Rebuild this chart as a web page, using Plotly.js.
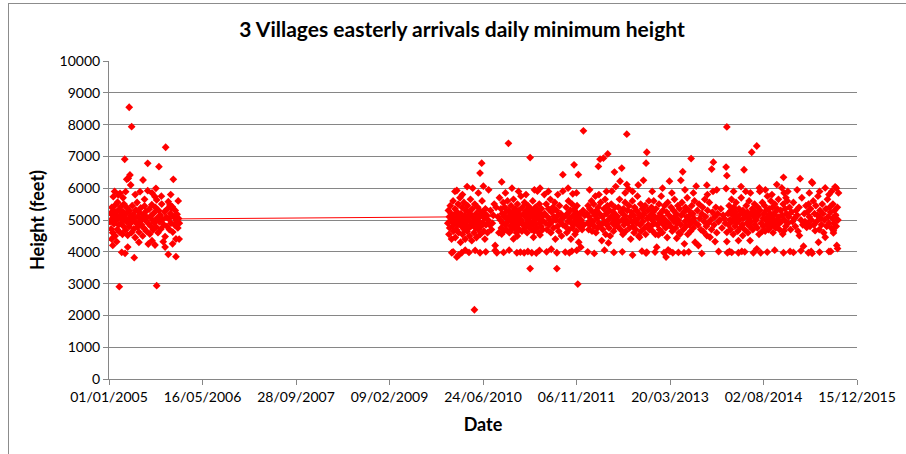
<!DOCTYPE html>
<html>
<head>
<meta charset="utf-8">
<script src="https://cdn.plot.ly/plotly-3.0.1.min.js"></script>
<style>
html,body{margin:0;padding:0;background:#fff;overflow:hidden;}
#wrap{position:relative;width:906px;height:454px;}
#frame{position:absolute;left:8px;top:3px;width:910px;height:470px;border:1px solid #8c8c8c;box-sizing:border-box;pointer-events:none;z-index:2;}
#chart{position:absolute;left:0;top:0;width:906px;height:454px;}
</style>
</head>
<body>
<div id="wrap"><div id="chart"></div><div id="frame"></div></div>
<script>
// Day offsets are counted from 01/01/2005; each pair is [dayOffset, heightFeet]
const season2005 = [
[108,8545],[121,7935],[303,7287],[84,6910],[207,6783],[267,6677],[344,6280],[182,6258],[112,6415],[103,6312],[95,6280],[116,6101],[251,5997],[207,5922],[166,5890],[89,5890],[23,5733],[50,5787],[59,5840],[246,5733],[255,5630],[317,5576],[326,5472],[335,5368],[14,4403],[41,4318],[210,4246],[246,4214],[290,4318],[68,3985],[86,3953],[135,3815],[317,3921],[358,3847],[358,4403],[55,2903],[255,2934],
[30,5900],[75,5700],[140,5800],[190,5650],[230,5850],[280,5750],[330,5800],[370,5600],[20,4200],[100,4150],[160,4300],[230,4350],[300,4150],[340,4250],[375,4400],
[6,4950],[9,5210],[12,4720],[15,5400],[18,5050],[20,4600],[25,5300],[27,4880],[30,5120],[33,4500],[35,5480],[38,4990],[40,5250],[44,4700],[46,5560],[48,5080],[52,4850],[54,5330],[57,4620],[60,5150],[63,5420],[65,4900],[70,5010],[72,4550],[75,5260],[78,4800],[80,5500],[83,5090],[88,4680],[91,5200],[94,4950],[97,5380],[100,4520],[104,5030],[107,4790],[110,5290],[113,4880],[117,5140],[120,4600],[124,5450],[127,4970],[130,5180],[133,4720],[137,5060],[140,4450],[143,5320],[146,4900],[150,5550],[153,4780],[156,5100],[160,4620],[163,5230],[166,4960],[170,5380],[173,4850],[177,5020],[180,4500],[184,5160],[187,4740],[190,5440],[194,4990],[197,5270],[200,4650],[203,5080],[212,4880],[215,5340],[218,4560],[222,5120],[225,4800],[229,5480],[232,5000],[236,4690],[240,5220],[243,4920],[248,5400],[252,4780],[258,5060],[262,4600],[265,5300],[270,4940],[274,5150],[278,4720],[282,5500],[286,5010],[293,4850],[297,5260],[300,4480],[306,5090],[310,4800],[313,5350],[320,5040],[323,4700],[329,5200],[332,4900],[338,5420],[341,4620],[347,5100],[350,4850],[354,5300],[360,4980],[364,5180],[368,4750],[372,5050],[376,4900]
];
const season2010 = [
[1860,5928],[1945,6000],[1993,6788],[1984,6477],[2002,6063],[1954,2178],[1833,3970],[1860,3835],[1886,3970],[1958,4042],[1984,3970],
[1840,4000],[1870,3900],[1905,4050],[1925,3980],[2015,4000],[1850,5900],[1890,5800],[1915,6050],[1975,5850],[2030,5950],
[1812,4900],[1815,5300],[1818,4550],[1820,5100],[1822,4750],[1825,5450],[1827,4980],[1830,5200],[1832,4400],[1835,5050],[1837,4800],[1840,5600],[1842,4650],[1845,5150],[1847,4900],[1850,5350],[1852,4450],[1855,5000],[1857,4700],[1862,5250],[1865,4850],[1867,5500],[1870,4600],[1872,5100],[1875,4950],[1877,5700],[1880,4300],[1882,5200],[1885,4800],[1888,5400],[1890,4550],[1893,5050],[1895,4900],[1898,5550],[1900,4700],[1903,5150],[1905,4400],[1908,5300],[1910,4850],[1913,5000],[1915,4650],[1918,5450],[1920,5100],[1923,4750],[1925,5250],[1928,4500],[1930,4950],[1933,5650],[1935,4800],[1938,5150],[1940,4350],[1943,5350],[1948,4900],[1950,5050],[1952,4600],[1956,5500],[1960,4750],[1963,5200],[1965,4450],[1968,5000],[1970,4850],[1972,5400],[1975,4700],[1978,5100],[1980,4950],[1982,5300],[1986,4550],[1988,5150],[1990,4800],[1995,5600],[1998,4900],[2000,5250],[2005,4650],[2008,5050],[2010,4400],[2013,5350],[2016,4850],[2020,5150],[2024,4600],[2027,5000],
[2065,4042],[2074,3970],[2065,4198],[2040,5300],[2050,4900],[2060,5500],[2045,4700],[2080,5100],[2085,4600],[2055,5150],[2035,4850],[2070,5400],[2088,5700],
[2100,6197],[2136,7410],[2100,4560],[2181,3970],[2220,3970],[2261,3970],[2302,4042],[2252,6964],[2252,3473],[2305,6000],[2291,5907],[2184,4500],[2270,4457],[2305,4530],[2163,4405],
[2110,3980],[2140,4050],[2200,3990],[2240,4010],[2285,3960],[2120,5850],[2155,6000],[2190,5900],[2230,5800],[2275,5950],
[2093,5000],[2096,5350],[2098,4750],[2103,5200],[2106,4900],[2108,5550],[2111,4650],[2114,5100],[2117,5400],[2119,4850],[2122,5250],[2125,4700],[2128,5050],[2131,5600],[2133,4950],[2138,5300],[2141,4600],[2144,5150],[2147,4800],[2150,5450],[2152,5000],[2155,4700],[2158,5250],[2160,4900],[2163,5650],[2166,5100],[2168,4750],[2171,5350],[2174,4950],[2177,5200],[2179,4600],[2184,5500],[2186,4850],[2189,5050],[2192,5300],[2195,4700],[2197,5150],[2200,4950],[2203,5750],[2206,5000],[2208,4650],[2211,5400],[2214,4850],[2217,5200],[2222,5550],[2225,4750],[2228,5100],[2230,4900],[2233,5300],[2236,4600],[2239,5050],[2241,5450],[2244,4800],[2247,5200],[2249,4950],[2255,5350],[2258,4700],[2263,5100],[2266,5600],[2268,4850],[2271,5250],[2274,4650],[2277,5000],[2280,5400],[2282,4900],[2285,5150],[2288,4750],[2293,5300],[2296,5050],[2299,4600],[2301,5500],[2304,4900],[2307,5200],[2310,4800],[2313,5350],[2316,5000],[2319,4700],[2322,5150]
];
const season2011 = [
[2328,5800],[2330,5200],[2335,4900],[2338,5500],[2342,4700],[2345,5100],[2350,5350],[2353,4850],[2357,5000],[2360,5650],[2363,4600],[2367,5250],[2370,4950],[2374,5400],[2377,4750],[2380,5100],[2384,5550],[2387,4400],[2390,5000],[2393,5300],[2395,3970],[2395,3473],[2398,4800],[2402,5150],[2405,4650],[2409,5450],[2412,4950],[2416,5200],[2420,4500],[2423,5050],[2427,5907],[2427,6425],[2428,4850],
[2340,4000],[2365,4080],[2350,5900],[2400,5800],
[2487,6736],[2510,6425],[2480,5824],[2462,3970],[2501,4042],[2523,4146],[2507,2986],[2537,7803],
[2440,3990],[2475,4020],[2455,6000],[2500,5850],
[2435,5100],[2440,4800],[2445,5400],[2448,4600],[2451,5200],[2454,4950],[2457,5600],[2460,4700],[2464,5050],[2467,5300],[2470,4400],[2473,4900],[2476,5500],[2478,4750],[2483,5150],[2485,4850],[2489,5350],[2492,4550],[2494,5000],[2497,5250],[2499,4650],[2503,5450],[2505,4900],[2508,5100],[2512,4300],[2514,4800],[2517,5200],[2520,4950],[2525,5000],[2530,4700],[2535,5300],[2540,4850],[2544,5150],
[2617,6684],[2626,6912],[2644,6943],[2667,7078],[2703,6508],[2635,4353],[2671,4280],[2689,5907],
[2560,4000],[2595,3950],[2650,4050],[2700,3980],[2570,5950],[2620,5800],[2660,5900],[2710,6050],
[2556,5200],[2559,4900],[2562,5450],[2565,4700],[2568,5100],[2571,5350],[2574,4850],[2577,5000],[2580,5600],[2583,4650],[2586,5250],[2589,4950],[2592,5500],[2595,4800],[2598,5150],[2601,5750],[2604,4600],[2607,5300],[2610,5050],[2613,4750],[2616,5400],[2620,4900],[2623,5200],[2629,5550],[2632,4850],[2638,5100],[2641,4700],[2647,5350],[2650,4950],[2653,5650],[2656,4550],[2659,5200],[2662,4850],[2665,5450],[2670,5000],[2674,4750],[2677,5300],[2680,4500],[2683,5100],[2686,5500],[2692,4900],[2695,5250],[2698,4650],[2701,5050],[2706,5400],[2709,4800],[2712,5150],[2715,4950]
];
const season2012 = [
[2733,6218],[2769,6114],[2778,5980],[2742,6632],[2769,7700],[2876,7130],[2872,6788],[2858,6249],[2876,3990],[2837,4457],[2872,3960],
[2745,4000],[2800,3900],[2850,4020],[2760,5850],[2800,5900],[2830,6100],
[2718,5100],[2721,4800],[2724,5400],[2727,4950],[2730,5650],[2736,4700],[2739,5250],[2745,5000],[2748,4550],[2751,5350],[2754,4850],[2757,5150],[2760,5550],[2763,4650],[2766,5000],[2772,5300],[2775,4900],[2781,5450],[2784,4750],[2787,5100],[2790,4400],[2793,5250],[2796,4950],[2799,5600],[2802,4800],[2805,5150],[2808,4600],[2811,5400],[2814,5000],[2817,4700],[2820,5300],[2823,4900],[2826,5750],[2829,5050],[2832,4500],[2835,5200],[2840,4850],[2843,5500],[2846,4650],[2849,5100],[2852,5350],[2855,4950],[2861,5200],[2864,4750],[2867,5450],[2870,4550],[2878,5050],[2881,5300],[2884,4850],[2887,5600],[2890,4700],
[3068,6518],[2997,6220],[3058,6249],[2929,4146],[2938,4530],[2979,3835],[2968,3970],[3000,4011],[3015,3970],[3075,3970],[3077,4250],[3036,4426],[3054,4560],[3113,6933],[3134,4301],[3140,6063],
[2920,3990],[2990,4060],[3045,3980],[3100,4000],[2905,5900],[2960,6000],[3010,5850],[3080,5950],[3125,5850],
[2895,5150],[2898,4800],[2901,5400],[2904,5000],[2907,4650],[2910,5250],[2913,5600],[2916,4900],[2919,5100],[2922,4550],[2925,5350],[2932,4850],[2935,5050],[2941,5500],[2944,4700],[2947,5200],[2950,4950],[2953,5750],[2956,5100],[2959,4600],[2962,5300],[2965,4850],[2971,5450],[2974,5000],[2977,4750],[2982,5250],[2985,4450],[2988,5550],[2991,4900],[2994,5150],[3003,4800],[3006,5400],[3009,5050],[3012,4650],[3018,5300],[3021,4950],[3024,5650],[3027,5100],[3030,4750],[3033,5200],[3039,4900],[3042,5450],[3045,5000],[3048,4600],[3051,5350],[3057,4850],[3061,5150],[3064,5550],[3071,4700],[3074,5250],[3080,4950],[3083,5400],[3086,4800],[3089,5100],[3092,5700],[3095,4550],[3098,5000],[3101,5300],[3104,4850],[3107,5150],[3110,4650],[3116,5450],[3119,4950],[3122,5200],[3125,4750],[3128,5050],[3131,5600],[3137,4900]
];
const season2013 = [
[3152,4198],[3179,4633],[3197,4509],[3214,4457],[3241,4322],[3197,6094],[3232,6819],[3223,6601],[3300,6664],[3304,6394],[3304,7927],
[3170,3950],[3260,4010],[3200,5800],[3250,5950],
[3146,5300],[3150,4850],[3155,5500],[3160,5050],[3165,4700],[3170,5200],[3175,5400],[3182,4950],[3186,5650],[3190,5100],[3194,4800],[3201,5300],[3205,4900],[3210,5550],[3218,5000],[3222,4700],[3227,5250],[3230,5900],[3236,4850],[3240,5100],[3245,5400],[3250,4600],[3255,5200],[3260,4950],[3266,5000],[3272,5350],[3278,4750],[3284,5150],[3290,5050],[3296,4900],
[3300,5990],[3307,3970],[3318,4011],[3366,3970],[3384,4011],[3304,4322],[3304,4612],[3366,4353],[3389,4509],[3396,6580],[3437,7130],[3464,7327],[3428,4353],[3446,3970],[3485,3970],[3464,4094],[3491,4633],[3478,6010],[3571,6114],[3598,6010],[3480,5900],[3405,5900],
[3330,3980],[3400,4000],[3520,3990],[3560,4050],[3340,5900],[3380,6050],[3430,5850],[3510,5950],[3545,5800],
[3310,5200],[3313,4850],[3316,5450],[3320,5000],[3323,4700],[3326,5300],[3329,5650],[3332,4950],[3335,5150],[3338,4550],[3341,5400],[3344,5050],[3347,4800],[3350,5250],[3353,5550],[3356,4900],[3359,5100],[3362,4650],[3369,5350],[3372,5000],[3375,4750],[3378,5200],[3381,5700],[3387,4850],[3390,5300],[3393,5050],[3399,4700],[3402,5150],[3408,5450],[3411,4900],[3414,5250],[3417,4600],[3420,5050],[3423,5600],[3426,4800],[3431,5200],[3434,4950],[3440,5350],[3443,4700],[3449,5100],[3452,5500],[3455,4850],[3458,5250],[3461,5000],[3467,4750],[3470,5400],[3473,5150],[3476,4550],[3482,5300],[3488,4900],[3494,5550],[3497,5050],[3500,4800],[3503,5200],[3506,5450],[3509,4650],[3512,5000],[3515,5300],[3518,4850],[3521,5750],[3524,5100],[3527,4700],[3530,5350],[3533,4950],[3536,5200],[3539,5600],[3542,4800],[3545,5050],[3548,5400],[3551,4600],[3554,5150],[3557,4900],[3560,5500],[3563,5250],[3566,4750],[3569,5000],[3574,5350],[3577,4850],[3580,5650],[3583,5100],[3586,4700]
];
const season2014 = [
[3607,6342],[3607,3970],[3642,4011],[3610,4664],[3603,4560],[3692,4509],[3714,4177],[3696,6301],[3610,5850],[3620,5700],
[3660,3980],[3700,4030],[3630,5900],[3680,5950],
[3592,5300],[3596,4950],[3601,5150],[3605,5500],[3612,5000],[3616,5350],[3619,4800],[3623,5200],[3627,5600],[3631,4900],[3635,5100],[3639,5400],[3645,4700],[3650,5250],[3655,4950],[3660,5550],[3665,5050],[3670,4800],[3675,5300],[3680,5150],[3685,4650],[3690,5400],[3700,5000],[3705,5700],[3710,4850],[3718,5200],[3722,4950],[3727,5450],
[3758,6197],[3762,6160],[3830,6010],[3883,6042],[3865,5907],[3731,4768],[3776,4664],[3794,4301],[3830,4457],[3860,4011],[3874,4664],[3874,4592],[3892,4198],[3755,4011],[3740,3970],[3760,3950],
[3800,3990],[3850,4010],[3896,4100],[3745,5850],[3800,5900],[3850,5800],[3890,6000],
[3734,5250],[3737,4900],[3741,5500],[3745,5100],[3749,4800],[3752,5350],[3756,5000],[3766,5600],[3770,4850],[3773,5200],[3780,5450],[3784,4950],[3788,5150],[3791,5750],[3798,4700],[3802,5300],[3806,5050],[3810,4850],[3814,5500],[3818,5200],[3822,4600],[3826,5000],[3834,5350],[3838,4800],[3842,5650],[3846,5100],[3850,4900],[3854,5400],[3858,5250],[3863,4750],[3868,5050],[3871,5500],[3877,4900],[3880,5300],[3886,5150],[3889,4800],[3895,5400],[3898,5000],[3901,5850]
];
// Linear trendline: [dayOffset, height]
const trendDays = [5, 3901];
const trendHeights = [5020, 5185];
// Axis tick labels
const xTickLabels = ['01/01/2005','16/05/2006','28/09/2007','09/02/2009','24/06/2010','06/11/2011','20/03/2013','02/08/2014','15/12/2015'];
const yTickValues = [0,1000,2000,3000,4000,5000,6000,7000,8000,9000,10000];

const chartTitle = '3 Villages easterly arrivals daily minimum height';
const xTitle = 'Date';
const yTitle = 'Height (feet)';

function dayToIso(d){
  const t = Date.UTC(2005,0,1) + d*86400000;
  return new Date(t).toISOString().slice(0,10);
}
function labelToIso(s){
  const p = s.split('/');
  return p[2]+'-'+p[1]+'-'+p[0];
}
const all = [].concat(season2005, season2010, season2011, season2012, season2013, season2014);
const xs = all.map(p => dayToIso(p[0]));
const ys = all.map(p => p[1]);

const red = '#ff0000';
const axisGray = '#868686';
const font = 'Lato, Carlito, Calibri, "Open Sans", sans-serif';

const traces = [
  {type:'scatter', mode:'markers', x: xs, y: ys,
   marker:{symbol:'diamond', size:6, color:red, line:{width:0}}, hoverinfo:'skip', showlegend:false},
  {type:'scatter', mode:'lines', x: trendDays.map(dayToIso), y: trendHeights,
   line:{color:red, width:1}, hoverinfo:'skip', showlegend:false}
];

const layout = {
  width:906, height:454,
  margin:{l:109, r:49, t:61, b:75},
  paper_bgcolor:'#ffffff', plot_bgcolor:'#ffffff',
  font:{family:font, color:'#000000', size:14},
  title:{text:chartTitle, font:{family:font, size:21, color:'#000', weight:'bold'}, xref:'container', x:0.51, xanchor:'center', yref:'container', y:1-30/454, yanchor:'middle'},
  xaxis:{
    type:'date', range:[labelToIso(xTickLabels[0]), labelToIso(xTickLabels[xTickLabels.length-1])],
    tickmode:'array', tickvals: xTickLabels.map(labelToIso), ticktext: xTickLabels,
    showgrid:false, zeroline:false, showline:true, linecolor:axisGray, linewidth:1,
    ticks:'outside', ticklen:5, tickcolor:axisGray, tickfont:{family:font, size:14, color:'#000'},
    title:{text:xTitle, font:{family:font, size:18, color:'#000', weight:'bold'}, standoff:14},
    fixedrange:true
  },
  yaxis:{
    range:[0,10000], tickmode:'array', tickvals:yTickValues, ticktext:yTickValues.map(String),
    showgrid:true, gridcolor:axisGray, gridwidth:1, zeroline:false, showline:true, linecolor:axisGray, linewidth:1,
    ticks:'outside', ticklen:5, tickcolor:axisGray, tickfont:{family:font, size:14, color:'#000'},
    title:{text:yTitle, font:{family:font, size:18, color:'#000', weight:'bold'}, standoff:10},
    fixedrange:true
  }
};
Plotly.newPlot('chart', traces, layout, {displayModeBar:false, staticPlot:true});
</script>
</body>
</html>
